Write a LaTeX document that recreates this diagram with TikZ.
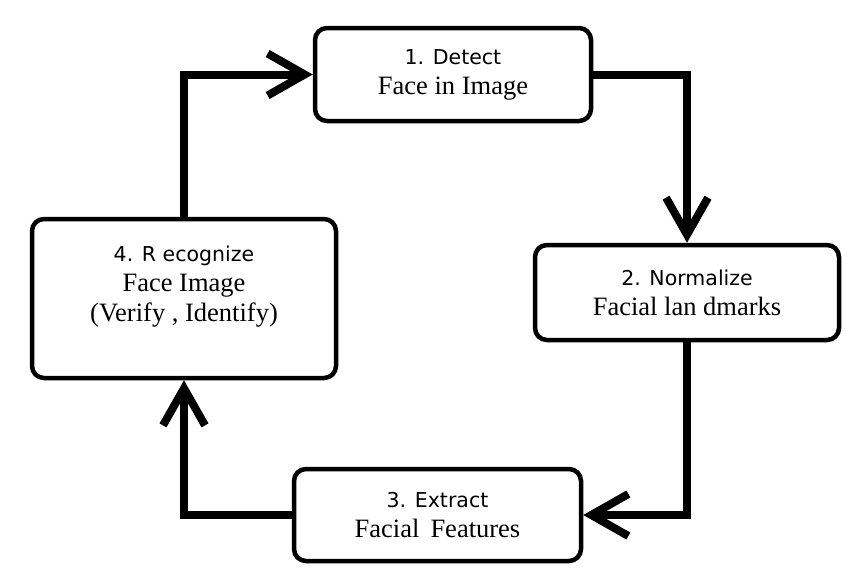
\documentclass[tikz,border=0pt]{standalone}
\usepackage{fontspec}
\setmainfont{Liberation Serif}
\newfontfamily\headfont{DejaVu Sans}
\usetikzlibrary{arrows.meta}
\begin{document}
\begin{tikzpicture}[x=1pt,y=-1pt,stepbox/.style={draw, rounded corners=12pt, line width=4.5pt, align=center, inner sep=0pt, font=\fontsize{26.5}{30}\selectfont}]
    \tikzset{flow/.style={line width=8pt, -{Straight Barb[length=37pt,width=42pt]}}}
    \useasboundingbox (0,0) rectangle (850,576);
    \def \head {\headfont\fontsize{20.5}{30}\selectfont}
    \node[stepbox, minimum width=276pt, minimum height=93pt] (1) at (453,74.5) {{\head 1. Detect}\\Face in Image};
    \node[stepbox, minimum width=304pt, minimum height=95pt] (2) at (687,292.5) {{\head 2. Normalize}\\Facial lan dmarks};
    \node[stepbox, minimum width=287pt, minimum height=92pt] (3) at (437.5,515) {{\head 3. Extract}\\Facial\, Features};
    \node[stepbox, minimum width=304pt, minimum height=159pt] (4) at (184,298.5) {{\head 4. R ecognize}\\Face Image\\(Verify , Identify)\\ \mbox{}};
    %connectors round the cycle
    \draw[flow] (1) -| (2);
    \draw[flow] (2) |- (3);
    \draw[flow] (3) -| (4);
    \draw[flow] (4) |- (1);
\end{tikzpicture}
\end{document}
